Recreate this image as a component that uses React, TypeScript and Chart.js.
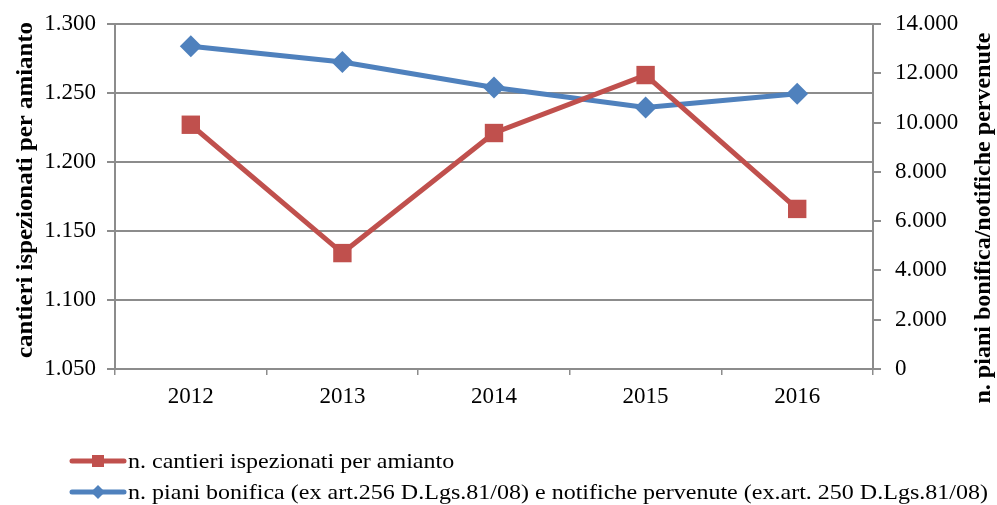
import React, { useEffect, useRef } from "react";
import { Chart, registerables } from "chart.js";

Chart.register(...registerables);

const years = ["2012", "2013", "2014", "2015", "2016"];
const cantieri = [1227, 1134, 1221, 1263, 1166];
const piani = [13100, 12460, 11420, 10610, 11170];

const leftTitle = "cantieri ispezionati per amianto";
const rightTitle = "n. piani bonifica/notifiche pervenute";
const legendLabels = [
  "n. cantieri ispezionati per amianto",
  "n. piani bonifica (ex art.256 D.Lgs.81/08) e notifiche pervenute (ex.art. 250 D.Lgs.81/08)",
];

const RED = "#C0504D";
const BLUE = "#4F81BD";
const GRID = "#8c8c8c";
const FONT = "'Liberation Serif'";

const fmt = (v: number) => (v === 0 ? "0" : (v / 1000).toFixed(3));

const titlesPlugin = {
  id: "axisTitles",
  afterDraw(chart: any) {
    const ctx = chart.ctx;
    ctx.save();
    ctx.fillStyle = "#000";
    ctx.font = `bold 24px ${FONT}`;
    ctx.textAlign = "center";
    ctx.textBaseline = "alphabetic";
    ctx.save();
    ctx.translate(32, 190);
    ctx.rotate(-Math.PI / 2);
    ctx.scale(336 / ctx.measureText(leftTitle).width, 1);
    ctx.fillText(leftTitle, 0, 0);
    ctx.restore();
    ctx.save();
    ctx.translate(990, 218);
    ctx.rotate(-Math.PI / 2);
    ctx.scale(371 / ctx.measureText(rightTitle).width, 1);
    ctx.fillText(rightTitle, 0, 0);
    ctx.restore();
    ctx.restore();
  },
};

const legendPlugin = {
  id: "customLegend",
  afterDraw(chart: any) {
    const ctx = chart.ctx;
    const rows = [
      { y: 461, color: RED, shape: "square", text: legendLabels[0] },
      { y: 492, color: BLUE, shape: "diamond", text: legendLabels[1] },
    ];
    ctx.save();
    ctx.font = `22px ${FONT}`;
    const sx = 860 / ctx.measureText(legendLabels[1]).width;
    for (const r of rows) {
      ctx.strokeStyle = r.color;
      ctx.fillStyle = r.color;
      ctx.lineWidth = 5;
      ctx.lineCap = "round";
      ctx.beginPath();
      ctx.moveTo(72, r.y);
      ctx.lineTo(124, r.y);
      ctx.stroke();
      ctx.beginPath();
      if (r.shape === "square") {
        ctx.rect(98 - 6, r.y - 6, 12, 12);
      } else {
        ctx.moveTo(98, r.y - 7);
        ctx.lineTo(105, r.y);
        ctx.lineTo(98, r.y + 7);
        ctx.lineTo(91, r.y);
        ctx.closePath();
      }
      ctx.fill();
      ctx.save();
      ctx.fillStyle = "#000";
      ctx.font = `22px ${FONT}`;
      ctx.textAlign = "left";
      ctx.textBaseline = "alphabetic";
      ctx.translate(128, r.y + 7);
      ctx.scale(sx, 1);
      ctx.fillText(r.text, 0, 0);
      ctx.restore();
    }
    ctx.restore();
  },
};

export default function App() {
  const ref = useRef<HTMLCanvasElement | null>(null);
  useEffect(() => {
    let chart: any = null;
    let cancelled = false;
    const build = () => {
      if (cancelled || !ref.current) return;
      chart = new Chart(ref.current, {
        type: "line",
        data: {
          labels: years,
          datasets: [
            {
              label: legendLabels[0],
              data: cantieri,
              yAxisID: "y",
              borderColor: RED,
              backgroundColor: RED,
              borderWidth: 5,
              pointStyle: "rect",
              pointRadius: 13,
              pointBorderWidth: 0,
              pointBackgroundColor: RED,
              tension: 0,
            },
            {
              label: legendLabels[1],
              data: piani,
              yAxisID: "y1",
              borderColor: BLUE,
              backgroundColor: BLUE,
              borderWidth: 5,
              pointStyle: "rectRot",
              pointRadius: 11,
              pointBorderWidth: 0,
              pointBackgroundColor: BLUE,
              tension: 0,
            },
          ],
        },
        options: {
          animation: false,
          responsive: false,
          maintainAspectRatio: false,
          layout: { padding: { top: 24, bottom: 0, left: 0, right: 0 } },
          plugins: {
            legend: { display: false },
            tooltip: { enabled: false },
          },
          scales: {
            x: {
              offset: true,
              afterFit: (s: any) => {
                s.height = 136;
                s.paddingLeft = 0;
                s.paddingRight = 0;
              },
              grid: {
                offset: true,
                drawOnChartArea: false,
                tickLength: 6,
                color: GRID,
                lineWidth: 1.5,
              },
              border: { color: GRID, width: 2 },
              ticks: {
                color: "#000",
                font: { family: FONT, size: 23 },
                padding: 8,
                maxRotation: 0,
              },
            },
            y: {
              position: "left",
              min: 1050,
              max: 1300,
              afterFit: (s: any) => {
                s.width = 115;
                s.paddingTop = 0;
                s.paddingBottom = 0;
              },
              ticks: {
                stepSize: 50,
                color: "#000",
                font: { family: FONT, size: 23 },
                padding: 11,
                callback: (v: any) => fmt(Number(v)),
              },
              grid: { color: GRID, lineWidth: 2, tickLength: 8 },
              border: { color: GRID, width: 2 },
            },
            y1: {
              position: "right",
              min: 0,
              max: 14000,
              afterFit: (s: any) => {
                s.width = 124;
                s.paddingTop = 0;
                s.paddingBottom = 0;
              },
              ticks: {
                stepSize: 2000,
                color: "#000",
                font: { family: FONT, size: 23 },
                padding: 14,
                callback: (v: any) => fmt(Number(v)),
              },
              grid: {
                drawOnChartArea: false,
                color: GRID,
                lineWidth: 2,
                tickLength: 8,
              },
              border: { color: GRID, width: 2 },
            },
          },
        },
        plugins: [titlesPlugin, legendPlugin],
      });
    };
    const fontsApi: any = (document as any).fonts;
    if (fontsApi && fontsApi.load) {
      Promise.all([
        fontsApi.load(`20px ${FONT}`),
        fontsApi.load(`bold 20px ${FONT}`),
      ])
        .catch(() => null)
        .then(build);
    } else {
      build();
    }
    return () => {
      cancelled = true;
      if (chart) chart.destroy();
    };
  }, []);
  return (
    <div style={{ position: "absolute", left: 0, top: 0, width: 997, height: 505, background: "#fff" }}>
      <canvas ref={ref} width={997} height={505} style={{ display: "block" }} />
    </div>
  );
}
